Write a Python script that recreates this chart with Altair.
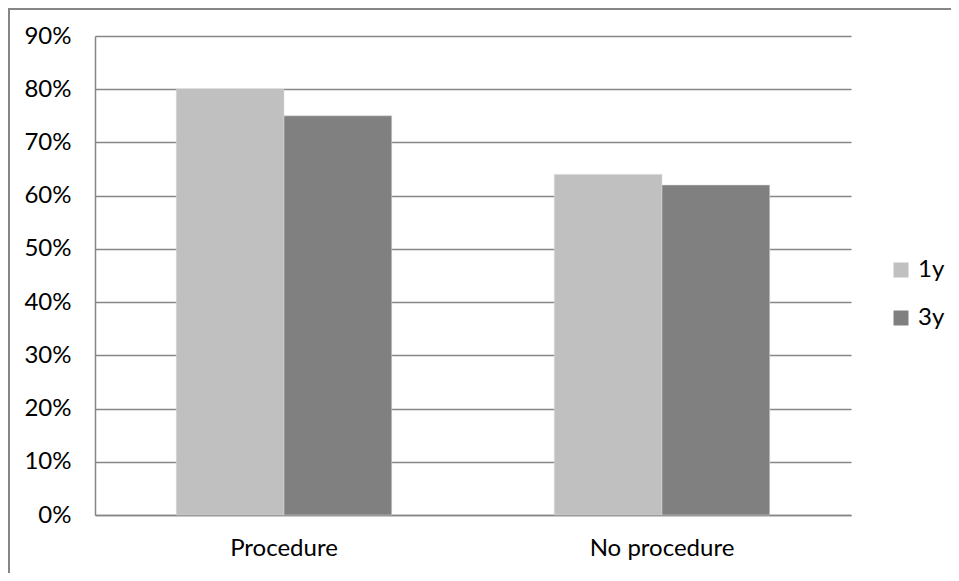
import altair as alt
import pandas as pd

categories = ["Procedure", "Procedure", "No procedure", "No procedure"]
series = ["1y", "3y", "1y", "3y"]
values = [0.80, 0.75, 0.64, 0.62]

cat_order = ["Procedure", "No procedure"]
series_order = ["1y", "3y"]
series_colors = ["#C0C0C0", "#808080"]

df = pd.DataFrame({"category": categories, "series": series, "value": values})

FONT = "Lato"
FS = 24
W, H = 756, 479

bars = alt.Chart(df).mark_bar(stroke="#D9D9D9", strokeWidth=0.5).encode(
    x=alt.X("category:N", sort=cat_order, title=None,
            scale=alt.Scale(paddingInner=0.43, paddingOuter=0.215),
            axis=alt.Axis(labelAngle=0, ticks=False, domainColor="#868686",
                          domainWidth=1.5, labelPadding=21, labelFontSize=FS,
                          labelFont=FONT, labelColor="#000000", grid=False)),
    xOffset=alt.XOffset("series:N", sort=series_order),
    y=alt.Y("value:Q", title=None,
            scale=alt.Scale(domain=[0, 0.9], nice=False),
            axis=alt.Axis(format=".0%", values=[i / 10 for i in range(10)],
                          ticks=False, domainColor="#868686", domainWidth=1.5,
                          gridColor="#868686", gridWidth=1.5, labelPadding=24,
                          labelFontSize=FS, labelFont=FONT, labelColor="#000000")),
    color=alt.Color("series:N", sort=series_order,
                    scale=alt.Scale(domain=series_order, range=series_colors),
                    legend=alt.Legend(title=None, orient="none", legendX=794, legendY=222,
                                      symbolType="square", symbolSize=225,
                                      symbolStrokeWidth=0, labelFontSize=FS,
                                      labelFont=FONT, labelColor="#000000",
                                      rowPadding=24, labelOffset=5)),
)

base = alt.Chart(pd.DataFrame({"a": [0]}))
top_edge = base.mark_rule(color="#868686", strokeWidth=2, clip=False).encode(
    x=alt.value(-87), x2=alt.value(W + 100), y=alt.value(-27),
)
left_edge = base.mark_rule(color="#868686", strokeWidth=2, clip=False).encode(
    x=alt.value(-86), y=alt.value(-28), y2=alt.value(H + 58),
)

chart = alt.layer(top_edge, left_edge, bars).properties(
    width=W, height=H,
    autosize=alt.AutoSizeParams(type="none"),
    padding={"left": 87, "top": 28, "right": 100, "bottom": 58},
).configure_view(stroke=None)

chart.save("out.html", embed_options={"renderer": "svg", "actions": False})
